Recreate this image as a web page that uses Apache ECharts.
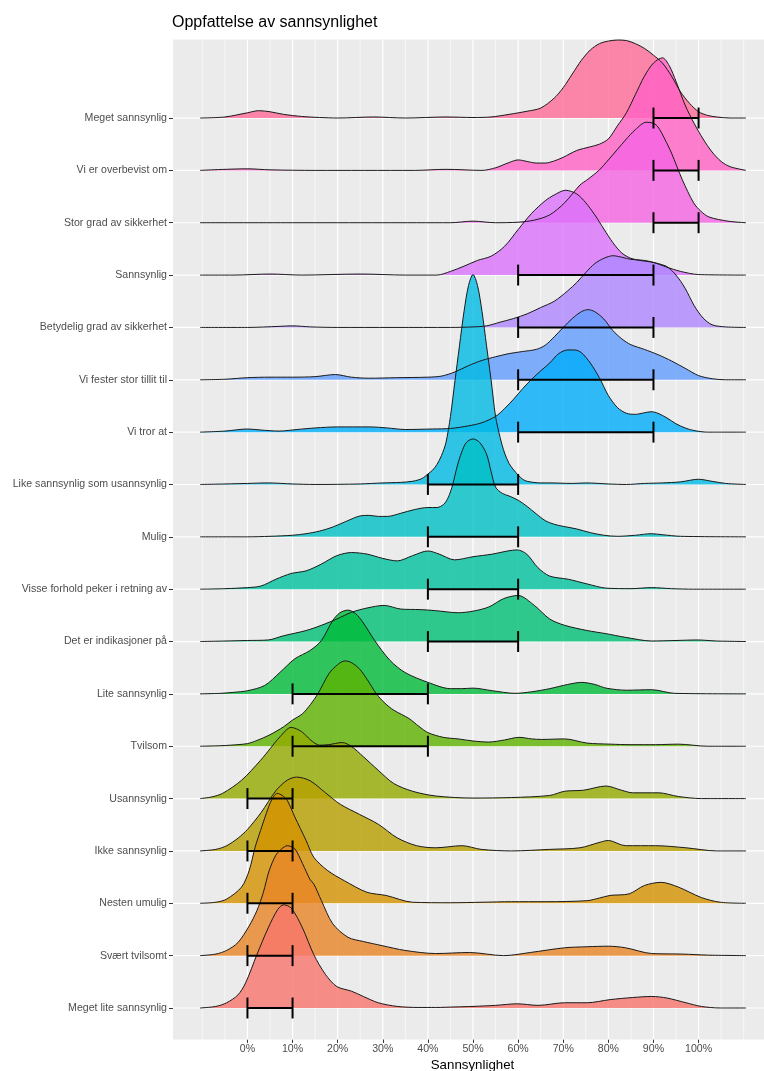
<!DOCTYPE html>
<html>
<head>
<meta charset="utf-8">
<title>Oppfattelse av sannsynlighet</title>
<script src="https://cdn.jsdelivr.net/npm/echarts@6.0.0/dist/echarts.min.js"></script>
<style>
html, body { margin: 0; padding: 0; background: #fff; }
#main { width: 764px; height: 1071px; }
</style>
</head>
<body>
<div id="main"></div>
<script>
// kategorier, nederst til øverst
var categories = [
  'Meget lite sannsynlig', 'Svært tvilsomt', 'Nesten umulig', 'Ikke sannsynlig',
  'Usannsynlig', 'Tvilsom', 'Lite sannsynlig', 'Det er indikasjoner på',
  'Visse forhold peker i retning av', 'Mulig', 'Like sannsynlig som usannsynlig',
  'Vi tror at', 'Vi fester stor tillit til', 'Betydelig grad av sikkerhet',
  'Sannsynlig', 'Stor grad av sikkerhet', 'Vi er overbevist om', 'Meget sannsynlig'
];

// anbefalt intervall (prosent) per kategori
var intervalLow  = [0, 0, 0, 0, 0, 10, 10, 40, 40, 40, 40, 60, 60, 60, 60, 90, 90, 90];
var intervalHigh = [10, 10, 10, 10, 10, 40, 40, 60, 60, 60, 60, 90, 90, 90, 90, 100, 100, 100];

var xTicks = [0, 10, 20, 30, 40, 50, 60, 70, 80, 90, 100];
var xMinorBreaks = [-10, -5, 5, 15, 25, 35, 45, 55, 65, 75, 85, 95, 105, 110];

// tetthet [prosent, høyde i radenheter]
var densMegetLite = [[-10.5,0],[-7,0.03],[-4.6,0.1],[-2.1,0.25],[-0.4,0.48],[2.1,1.02],[4.6,1.53],[6.7,1.88],[8,1.97],[9.7,1.91],[12.2,1.53],[14.7,1.02],[17.3,0.64],[19.8,0.41],[23.1,0.32],[25.7,0.22],[29,0.1],[33.2,0.03],[38,0.01],[41.7,0.01],[46,0.02],[50,0.03],[55,0.05],[59.8,0.08],[64.4,0.05],[70.3,0.1],[75.3,0.1],[80.4,0.16],[85.4,0.2],[89.6,0.22],[93,0.19],[97.2,0.1],[100.6,0.03],[104.8,0],[110.5,0]];
var densSvaert = [[-10.5,0],[-7,0.03],[-4.6,0.1],[-2.1,0.25],[0.4,0.57],[2.1,0.86],[3.5,1.2],[4.8,1.62],[6.3,1.92],[7.6,2.04],[8.8,2.1],[10.5,2.04],[12.2,1.76],[13.9,1.45],[14.7,1.37],[16.4,1.05],[18.9,0.61],[22.3,0.35],[25.7,0.27],[29.9,0.19],[34.9,0.1],[41.7,0.04],[49.2,0.06],[56.8,0],[62.7,0.06],[70.3,0.15],[75.3,0.17],[80,0.18],[83.8,0.15],[89.6,0.04],[96.4,0.03],[102,0.01],[110.5,0]];
var densNesten = [[-10.5,0],[-7,0.02],[-4.6,0.08],[-1.3,0.31],[0.4,0.63],[1.7,1.07],[2.9,1.39],[4.2,1.72],[5.4,1.98],[6.6,2.1],[7.7,2.06],[8.8,1.97],[10.5,1.65],[13,1.2],[14.7,0.88],[17.7,0.63],[21.5,0.43],[26.5,0.21],[30.7,0.15],[36.6,0.02],[45,0.01],[52,0.02],[58.5,0.03],[66,0.03],[75.3,0.05],[78,0.1],[80.4,0.15],[84.6,0.18],[88,0.34],[91.7,0.4],[95.5,0.31],[100.6,0.11],[104.8,0.02],[110.5,0]];
var densIkke = [[-10.5,0],[-7,0.03],[-4.6,0.1],[-2,0.25],[0,0.41],[3,0.73],[6.3,1.15],[8.8,1.35],[10.9,1.41],[13.9,1.34],[17.3,1.11],[20.6,0.89],[24.8,0.7],[29,0.51],[33.2,0.25],[37.5,0.1],[41.7,0.06],[47.6,0.1],[51.8,0.03],[58.5,0],[67,0.03],[73.7,0.06],[77.9,0.16],[80,0.2],[83.8,0.1],[90.5,0.1],[97.2,0.06],[104,0],[110.5,0]];
var densUsannsynlig = [[-10.5,0],[-8,0.03],[-5.5,0.1],[-1.3,0.35],[2.9,0.73],[5,0.95],[7.2,1.18],[9.7,1.36],[12,1.28],[14,1.12],[16,1.02],[18,1.03],[21,1.07],[23,1.0],[25.7,0.8],[29,0.54],[32.4,0.29],[36.6,0.14],[41.7,0.05],[50,0.01],[58.5,0.02],[67,0.06],[70.3,0.14],[74.5,0.16],[79.5,0.24],[82.9,0.16],[85.4,0.11],[91.2,0.11],[95.5,0.04],[100.6,0],[110.5,0]];
var densTvilsom = [[-10.5,0],[-6,0.01],[-3.8,0.02],[0,0.05],[2.1,0.11],[5,0.22],[8,0.37],[10,0.5],[12.2,0.62],[14,0.8],[15.6,1.0],[18.1,1.39],[20,1.56],[21.6,1.63],[23,1.6],[24.8,1.48],[26.5,1.28],[28.6,1.0],[30.5,0.82],[32.4,0.69],[35.8,0.53],[38,0.38],[40,0.26],[43.4,0.17],[46.7,0.14],[50,0.1],[53.5,0.08],[57,0.12],[60.2,0.17],[63,0.14],[65.2,0.13],[70.3,0.14],[75.3,0.06],[80.4,0.04],[85,0.03],[90.5,0.03],[95.5,0.04],[102,0],[110.5,0]];
var densLite = [[-10.5,0],[-6,0.01],[-3,0.03],[0,0.06],[3.8,0.16],[7.2,0.41],[10.5,0.67],[13.9,0.83],[16.4,1.02],[18.9,1.4],[20.5,1.55],[22.3,1.6],[24,1.53],[25.5,1.38],[28.2,1.02],[31.6,0.64],[34.9,0.41],[40,0.22],[45,0.1],[47.5,0.1],[50,0.11],[54.3,0.06],[59.3,0.01],[63,0.04],[67,0.1],[71,0.18],[74.1,0.22],[77,0.18],[79.5,0.11],[84,0.07],[89.6,0.08],[94.7,0.01],[110.5,0]];
var densIndikasjoner = [[-10.5,0],[-5,0.01],[0,0.02],[4.6,0.03],[8,0.11],[13,0.21],[16.4,0.31],[19.8,0.43],[23.1,0.56],[26.5,0.64],[30.3,0.69],[34,0.62],[38.3,0.61],[41.7,0.59],[46.7,0.55],[50,0.58],[53.5,0.66],[56.8,0.82],[60,0.88],[63.6,0.69],[67,0.43],[70.3,0.31],[75.3,0.21],[79.5,0.15],[83.8,0.08],[89.6,0.01],[95,0.02],[99.7,0.03],[104,0.01],[110.5,0]];
var densVisse = [[-10.5,0],[-5,0.01],[0,0.03],[3,0.06],[6.3,0.19],[9.7,0.3],[13,0.35],[16.4,0.48],[19.8,0.64],[23.1,0.7],[26.5,0.67],[29.9,0.59],[33.2,0.54],[36.6,0.64],[40,0.73],[42.5,0.67],[45.9,0.56],[50,0.62],[54.3,0.67],[57.7,0.73],[59.8,0.75],[61.9,0.67],[64.4,0.41],[67,0.25],[71.1,0.19],[75.3,0.1],[79.5,0.02],[85,0.01],[89.6,0.03],[94,0.01],[98.9,0],[110.5,0]];
var densMulig = [[-10.5,0],[0,0],[5,0.01],[10,0.03],[13,0.06],[16,0.11],[19,0.19],[22,0.3],[25,0.4],[27,0.41],[29,0.39],[31,0.39],[34,0.45],[37,0.52],[40,0.56],[42,0.56],[43.5,0.62],[44.5,0.75],[45.5,1.0],[46.5,1.35],[47.5,1.62],[48.5,1.8],[50,1.87],[51.5,1.8],[53,1.58],[54,1.25],[55,0.95],[56.5,0.83],[58,0.78],[60,0.7],[62,0.58],[64,0.44],[66,0.31],[68,0.24],[70,0.2],[73,0.15],[76,0.08],[79,0.03],[82,0.01],[86,0.03],[89.5,0.06],[92,0.04],[96,0.01],[110.5,0]];
var densLike = [[-10.5,0],[-5,0.01],[0,0.02],[4.5,0.03],[10,0.01],[15,0],[25,0.01],[30,0.03],[34,0.04],[36.5,0.06],[38,0.09],[39,0.13],[40,0.2],[41,0.27],[42,0.38],[43,0.55],[44,0.8],[45,1.3],[46,1.98],[47,2.65],[48,3.3],[49,3.8],[50,4.01],[51,3.8],[52,3.3],[53,2.65],[54,2.0],[55,1.3],[56,0.9],[57,0.6],[58,0.4],[59,0.28],[60,0.18],[61,0.1],[62,0.06],[65,0.03],[67,0.03],[72,0.02],[75,0.03],[80,0.01],[84,0],[88,0.02],[92,0.03],[96,0.05],[100,0.1],[103,0.06],[106,0.02],[110.5,0]];
var densViTror = [[-10.5,0],[-5,0.02],[0,0.06],[3,0.04],[7,0.02],[11,0.05],[15,0.08],[20,0.1],[27,0.1],[31,0.08],[35,0.05],[41,0.06],[45,0.07],[49,0.12],[52,0.18],[55,0.3],[57,0.45],[59,0.63],[61,0.83],[63,1.01],[65,1.17],[67,1.32],[69,1.5],[71,1.57],[72.5,1.57],[74,1.52],[76,1.32],[78,1.04],[80,0.7],[82,0.47],[84,0.36],[86,0.34],[88,0.37],[89.5,0.39],[91,0.36],[93,0.27],[95,0.16],[97,0.08],[99,0.03],[102,0],[110.5,0]];
var densViFester = [[-10.5,0],[-5,0.01],[0,0.04],[5,0.05],[10,0.05],[15,0.06],[19.5,0.1],[23,0.05],[27,0.03],[33,0.04],[40,0.05],[43,0.07],[46,0.15],[49,0.27],[52,0.37],[55,0.44],[58,0.5],[61,0.54],[64,0.58],[66,0.66],[68,0.82],[70,1.0],[72,1.17],[74,1.3],[75.5,1.34],[77,1.3],[79,1.16],[81,0.94],[83,0.78],[85,0.67],[88,0.58],[91,0.48],[94,0.36],[97,0.22],[100,0.08],[103,0.02],[106,0],[110.5,0]];
var densBetydelig = [[-10.5,0],[0,0],[7,0.02],[10,0.03],[14,0.01],[20,0],[45,0],[50,0.01],[53,0.03],[56,0.1],[59,0.17],[62,0.26],[65,0.38],[68,0.5],[71,0.7],[73,0.86],[75,1.05],[77,1.22],[79,1.32],[81,1.37],[83,1.34],[85,1.3],[88,1.28],[91,1.22],[93,1.16],[95,1.0],[97,0.75],[99,0.42],[101,0.18],[103,0.05],[106,0.01],[110.5,0]];
var densSannsynlig = [[-10.5,0],[-3,0],[5,0.02],[12,0],[25,0.02],[35,0],[42,0],[45,0.07],[48,0.17],[51,0.28],[54,0.36],[57,0.55],[60,0.87],[63,1.18],[66,1.42],[68,1.53],[70.5,1.62],[73,1.55],[75,1.38],[77,1.15],[79,0.88],[81,0.62],[83,0.42],[85,0.32],[87,0.28],[90,0.24],[93,0.15],[96,0.07],[100,0.01],[110.5,0]];
var densStorGrad = [[-10.5,0],[10,0],[30,0],[45,0],[50,0.03],[55,0],[60,0.01],[63.6,0.05],[67,0.15],[70.3,0.38],[73.7,0.72],[75.3,0.82],[77.9,1.0],[80,1.2],[83.8,1.58],[86,1.78],[88.4,1.92],[90,1.9],[91,1.83],[92.5,1.6],[94,1.33],[96.4,0.82],[98.9,0.38],[100.5,0.22],[102.3,0.11],[106.5,0.03],[110.5,0]];
var densOverbevist = [[-10.5,0],[0,0.03],[5,0.01],[15,0],[37,0],[44,0.02],[52,0],[55,0.05],[58,0.15],[60,0.2],[62,0.17],[64,0.14],[66,0.14],[68,0.18],[70,0.25],[73,0.38],[76,0.45],[78,0.5],[80,0.6],[82,0.85],[84,1.1],[86,1.45],[88,1.8],[90,2.05],[92,2.15],[93.5,2.0],[95,1.7],[97,1.25],[99,0.9],[101,0.6],[103,0.35],[105,0.17],[107,0.07],[110.5,0]];
var densMegetSannsynlig = [[-10.5,0],[-5,0.02],[0,0.1],[2.5,0.14],[5,0.12],[8,0.07],[12,0.03],[16,0.01],[20,0],[28,0.02],[35,0],[44,0.02],[50,0.01],[54,0.02],[58,0.07],[62,0.13],[65,0.19],[68,0.38],[70,0.58],[72,0.84],[74,1.1],[76,1.3],[78,1.42],[80,1.47],[82,1.49],[84,1.48],[86,1.42],[88,1.33],[90,1.2],[92,1.05],[94,0.8],[96,0.5],[98,0.28],[100,0.12],[102,0.05],[104,0.02],[107,0],[110.5,0]];

var densities = [densMegetLite, densSvaert, densNesten, densIkke, densUsannsynlig, densTvilsom,
  densLite, densIndikasjoner, densVisse, densMulig, densLike, densViTror, densViFester,
  densBetydelig, densSannsynlig, densStorGrad, densOverbevist, densMegetSannsynlig];

// ggplot hue-palett, 18 nivåer
var palette = ['#F8766D', '#E88526', '#D39200', '#B79F00', '#93AA00', '#5EB300', '#00BA38', '#00BF74', '#00C19F',
  '#00BFC4', '#00B9E3', '#00ADFA', '#619CFF', '#AE87FF', '#DB72FB', '#F564E3', '#FF61C3', '#FF6A98'];

var fontFam = '"Liberation Sans", Arial, Helvetica, sans-serif';
var rows = categories.map(function (c, i) { return i; });

var chart = echarts.init(document.getElementById('main'));

function vLine(width) {
  return function (params, api) {
    var x = api.coord([api.value(0), 0])[0];
    var cs = params.coordSys;
    return { type: 'line', shape: { x1: x, y1: cs.y, x2: x, y2: cs.y + cs.height },
      style: { stroke: '#ffffff', lineWidth: width } };
  };
}

var series = [];
// rutenett
series.push({ type: 'custom', z: 1, silent: true, renderItem: vLine(0.6),
  data: xMinorBreaks.map(function (v) { return [v, 0]; }) });
series.push({ type: 'custom', z: 1, silent: true, renderItem: vLine(1.2),
  data: xTicks.map(function (v) { return [v, 0]; }) });
series.push({ type: 'custom', z: 1, silent: true,
  renderItem: function (params, api) {
    var y = api.coord([0, api.value(1)])[1];
    var cs = params.coordSys;
    return { type: 'line', shape: { x1: cs.x, y1: y, x2: cs.x + cs.width, y2: y },
      style: { stroke: '#ffffff', lineWidth: 1.2 } };
  },
  data: rows.map(function (r) { return [0, r]; }) });

// ridgelinjer, øverst først slik at nederste ligger foran
for (var i = categories.length - 1; i >= 0; i--) {
  series.push({
    type: 'line', name: categories[i], z: 2,
    data: densities[i].map(function (p) { return [p[0], i + p[1]]; }),
    smooth: 0.3, symbol: 'none', silent: true,
    lineStyle: { color: '#1a1a1a', width: 1 },
    areaStyle: { color: palette[i], opacity: 0.8, origin: i }
  });
}

// intervaller
series.push({
  type: 'custom', z: 5, silent: true,
  encode: { x: [0, 1], y: 2 },
  data: rows.map(function (r) { return [intervalLow[r], intervalHigh[r], r]; }),
  renderItem: function (params, api) {
    var p1 = api.coord([api.value(0), api.value(2)]);
    var p2 = api.coord([api.value(1), api.value(2)]);
    var h = api.size([0, 0.2])[1];
    var st = { stroke: '#000', lineWidth: 2 };
    return { type: 'group', children: [
      { type: 'line', shape: { x1: p1[0], y1: p1[1], x2: p2[0], y2: p2[1] }, style: st },
      { type: 'line', shape: { x1: p1[0], y1: p1[1] - h, x2: p1[0], y2: p1[1] + h }, style: st },
      { type: 'line', shape: { x1: p2[0], y1: p2[1] - h, x2: p2[0], y2: p2[1] + h }, style: st }
    ] };
  }
});

chart.setOption({
  animation: false,
  backgroundColor: '#ffffff',
  title: {
    text: 'Oppfattelse av sannsynlighet', left: 172, top: 15, padding: 0,
    textStyle: { fontFamily: fontFam, fontSize: 16, fontWeight: 'normal', color: '#000' }
  },
  grid: { left: 173, right: 0, top: 39.5, bottom: 31.6, outerBoundsMode: 'none', containLabel: false,
    show: true, backgroundColor: '#EBEBEB', borderWidth: 0 },
  xAxis: {
    type: 'value', min: -16.5, max: 114.5,
    name: 'Sannsynlighet', nameLocation: 'middle', nameGap: 17,
    nameTextStyle: { fontFamily: fontFam, fontSize: 13.3, color: '#000', padding: [0, 0, 0, 8] },
    axisLine: { show: false, onZero: false },
    splitLine: { show: false },
    axisTick: { show: true, length: 3.5, customValues: xTicks, lineStyle: { color: '#333333' } },
    axisLabel: { customValues: xTicks, margin: 4, fontFamily: fontFam, fontSize: 10.6, color: '#4D4D4D',
      formatter: function (v) { return v + '%'; } }
  },
  yAxis: {
    type: 'value', min: -0.6, max: 18.5,
    axisLine: { show: false, onZero: false },
    splitLine: { show: false },
    axisTick: { show: true, length: 4, customValues: rows, lineStyle: { color: '#333333' } },
    axisLabel: { customValues: rows, margin: 6, fontFamily: fontFam, fontSize: 10.6, color: '#4D4D4D',
      formatter: function (v) { return categories[Math.round(v)]; } }
  },
  series: series
});
</script>
</body>
</html>
